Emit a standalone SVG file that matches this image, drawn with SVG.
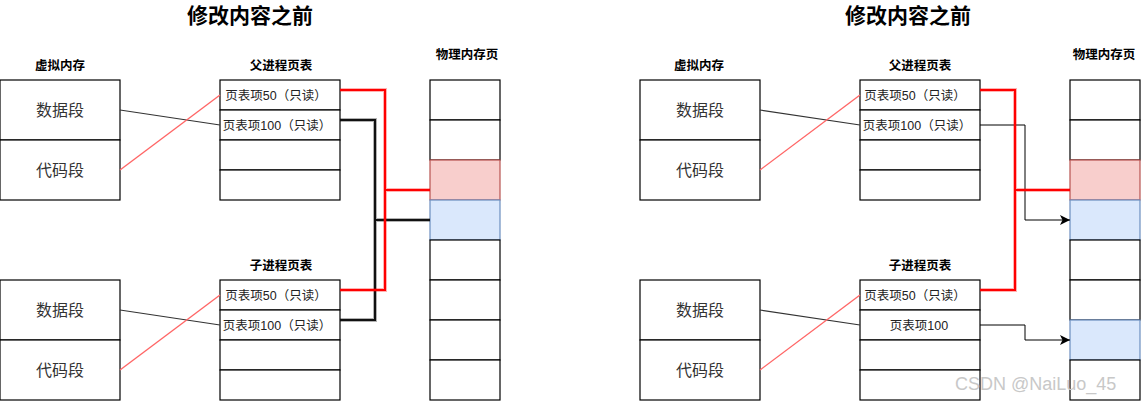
<svg xmlns="http://www.w3.org/2000/svg" width="1146" height="401" viewBox="0 0 1146 401">
<style>
text{font-family:"Liberation Sans","Noto Sans CJK SC",sans-serif;fill:#000}
.title{font-size:21px;font-weight:bold;text-anchor:middle}
.lbl{font-size:12.5px;font-weight:bold;text-anchor:middle}
.seg{font-size:16px;text-anchor:middle;fill:#333}
.ent{font-size:12.5px;text-anchor:middle;fill:#222}
.box{fill:#fff;stroke:#000;stroke-width:1.2}
.red{fill:#f8cecc;stroke:#b85450;stroke-width:1.2}
.blue{fill:#dae8fc;stroke:#6c8ebf;stroke-width:1.2}
.thin{fill:none;stroke:#333;stroke-width:1.2}
.pink{fill:none;stroke:#ff6666;stroke-width:1.4}
.rd{fill:none;stroke:#ff0000;stroke-width:2}
.rdh{fill:none;stroke:#ff0000;stroke-width:4;opacity:.3}
.bk{fill:none;stroke:#111;stroke-width:2}
.bkh{fill:none;stroke:#000;stroke-width:4;opacity:.3}
.ar{fill:none;stroke:#000;stroke-width:1;marker-end:url(#arr)}
.wm{font-size:18px;fill:#c8c8c8;font-family:"Liberation Sans",sans-serif}
</style>
<defs>
<marker id="arr" viewBox="0 0 10 10" refX="10" refY="5" markerWidth="10" markerHeight="10" markerUnits="userSpaceOnUse" orient="auto">
<path d="M0,0 L10,5 L0,10 L2.5,5 Z" fill="#000"/>
</marker>
</defs>

<!-- Left diagram -->
<g id="left-title"><text class="title" x="250" y="23">修改内容之前</text></g>
<g id="left-vm-label"><text class="lbl" x="60" y="70">虚拟内存</text></g>
<g id="left-vm-parent">
<rect class="box" x="0" y="80" width="120" height="60"/>
<rect class="box" x="0" y="140" width="120" height="60"/>
<text class="seg" x="60" y="116">数据段</text>
<text class="seg" x="60" y="176">代码段</text>
</g>
<g id="left-vm-child">
<rect class="box" x="0" y="280" width="120" height="60"/>
<rect class="box" x="0" y="340" width="120" height="60"/>
<text class="seg" x="60" y="316">数据段</text>
<text class="seg" x="60" y="376">代码段</text>
</g>
<g id="left-parent-pt">
<text class="lbl" x="281" y="70">父进程页表</text>
<rect class="box" x="220" y="80" width="120" height="30"/>
<rect class="box" x="220" y="110" width="120" height="30"/>
<rect class="box" x="220" y="140" width="120" height="30"/>
<rect class="box" x="220" y="170" width="120" height="30"/>
<text class="ent" x="276" y="100">页表项50（只读）</text>
<text class="ent" x="277" y="130">页表项100（只读）</text>
</g>
<g id="left-child-pt">
<text class="lbl" x="281" y="270">子进程页表</text>
<rect class="box" x="220" y="280" width="120" height="30"/>
<rect class="box" x="220" y="310" width="120" height="30"/>
<rect class="box" x="220" y="340" width="120" height="30"/>
<rect class="box" x="220" y="370" width="120" height="30"/>
<text class="ent" x="276" y="300">页表项50（只读）</text>
<text class="ent" x="277" y="330">页表项100（只读）</text>
</g>
<g id="left-phys">
<text class="lbl" x="467" y="59">物理内存页</text>
<rect class="box" x="430" y="80" width="70" height="40"/>
<rect class="box" x="430" y="120" width="70" height="40"/>
<rect class="red" x="430" y="160" width="70" height="40"/>
<rect class="blue" x="430" y="200" width="70" height="40"/>
<rect class="box" x="430" y="240" width="70" height="40"/>
<rect class="box" x="430" y="280" width="70" height="40"/>
<rect class="box" x="430" y="320" width="70" height="40"/>
<rect class="box" x="430" y="360" width="70" height="40"/>
</g>

<!-- Right diagram -->
<g id="right-title"><text class="title" x="908" y="23">修改内容之前</text></g>
<g id="right-vm-label"><text class="lbl" x="699" y="70">虚拟内存</text></g>
<g id="right-vm-parent">
<rect class="box" x="640" y="80" width="120" height="60"/>
<rect class="box" x="640" y="140" width="120" height="60"/>
<text class="seg" x="700" y="116">数据段</text>
<text class="seg" x="700" y="176">代码段</text>
</g>
<g id="right-vm-child">
<rect class="box" x="640" y="280" width="120" height="60"/>
<rect class="box" x="640" y="340" width="120" height="60"/>
<text class="seg" x="700" y="316">数据段</text>
<text class="seg" x="700" y="376">代码段</text>
</g>
<g id="right-parent-pt">
<text class="lbl" x="920" y="70">父进程页表</text>
<rect class="box" x="860" y="80" width="120" height="30"/>
<rect class="box" x="860" y="110" width="120" height="30"/>
<rect class="box" x="860" y="140" width="120" height="30"/>
<rect class="box" x="860" y="170" width="120" height="30"/>
<text class="ent" x="915" y="100">页表项50（只读）</text>
<text class="ent" x="917" y="130">页表项100（只读）</text>
</g>
<g id="right-child-pt">
<text class="lbl" x="920" y="270">子进程页表</text>
<rect class="box" x="860" y="280" width="120" height="30"/>
<rect class="box" x="860" y="310" width="120" height="30"/>
<rect class="box" x="860" y="340" width="120" height="30"/>
<rect class="box" x="860" y="370" width="120" height="30"/>
<text class="ent" x="915" y="300">页表项50（只读）</text>
<text class="ent" x="919" y="330">页表项100</text>
</g>
<g id="right-phys">
<text class="lbl" x="1104" y="59">物理内存页</text>
<rect class="box" x="1070" y="80" width="70" height="40"/>
<rect class="box" x="1070" y="120" width="70" height="40"/>
<rect class="red" x="1070" y="160" width="70" height="40"/>
<rect class="blue" x="1070" y="200" width="70" height="40"/>
<rect class="box" x="1070" y="240" width="70" height="40"/>
<rect class="box" x="1070" y="280" width="70" height="40"/>
<rect class="blue" x="1070" y="320" width="70" height="40"/>
<rect class="box" x="1070" y="360" width="70" height="40"/>
</g>

<g id="connectors">
<!-- left -->
<path class="thin" d="M120,110 L220,125"/>
<path class="pink" d="M120,170 L220,95"/>
<path class="thin" d="M120,310 L220,325"/>
<path class="pink" d="M120,370 L220,295"/>
<path class="bkh" d="M340,120 H375 V320 H340 M375,220 H430"/>
<path class="bk" d="M340,120 H375 V320 H340 M375,220 H430"/>
<path class="rdh" d="M340,90 H385 V290 H340 M385,190 H430"/>
<path class="rd" d="M340,90 H385 V290 H340 M385,190 H430"/>
<!-- right -->
<path class="thin" d="M760,110 L860,125"/>
<path class="pink" d="M760,170 L860,95"/>
<path class="thin" d="M760,310 L860,325"/>
<path class="pink" d="M760,370 L860,295"/>
<path class="ar" d="M980,125 H1025 V220 H1070"/>
<path class="ar" d="M980,325 H1025 V340 H1070"/>
<path class="rdh" d="M980,90 H1015 V290 H980 M1015,190 H1070"/>
<path class="rd" d="M980,90 H1015 V290 H980 M1015,190 H1070"/>
</g>

<text class="wm" x="955" y="390">CSDN @NaiLuo_45</text>
</svg>
